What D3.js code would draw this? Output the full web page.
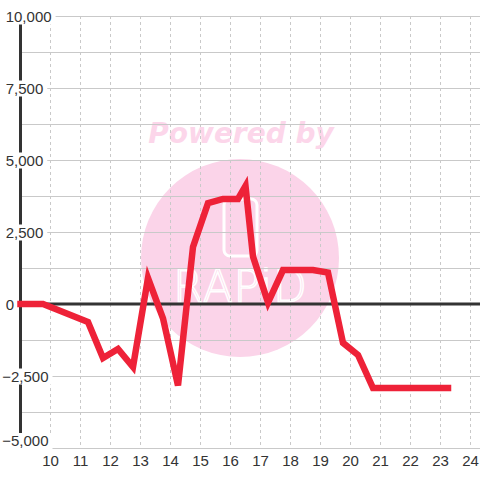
<!DOCTYPE html>
<html>
<head>
<meta charset="utf-8">
<script src="https://cdn.jsdelivr.net/npm/d3@7"></script>
<style>
  html, body { margin: 0; padding: 0; background: #ffffff; }
  svg { display: block; }
</style>
</head>
<body>
<div id="chart"></div>
<script>
// ---- data ----
const xValues = [9, 9.75, 11.25, 11.75, 12.25, 12.75, 13.25, 13.75, 14.25, 14.75, 15.25, 15.75, 16.25, 16.5, 16.75, 17.25, 17.75, 18.75, 19.25, 19.75, 20.25, 20.75, 23.25];
const yValues = [0, 0, -625, -1875, -1560, -2190, 900, -500, -2830, 1980, 3500, 3650, 3650, 4100, 1650, 50, 1180, 1180, 1090, -1350, -1770, -2920, -2920];
const xTicks = [10, 11, 12, 13, 14, 15, 16, 17, 18, 19, 20, 21, 22, 23, 24];
const yLabelTicks = [-5000, -2500, 0, 2500, 5000, 7500, 10000];
const yGridTicks = [-5000, -3750, -2500, -1250, 0, 1250, 2500, 3750, 5000, 6250, 7500, 8750, 10000];

const W = 480, H = 480;
const svg = d3.select("#chart").append("svg").attr("width", W).attr("height", H);
svg.append("rect").attr("width", W).attr("height", H).attr("fill", "#ffffff");

const x = d3.scaleLinear().domain([9, 24 + 9.5 / 30]).range([20.5, 480]);
const y = d3.scaleLinear().domain([-5000, 10000]).range([448, 16]);

// ---- watermark ----
const wm = svg.append("g");
wm.append("circle").attr("cx", 240).attr("cy", 258).attr("r", 99).attr("fill", "#fbd4e9");
wm.append("text").attr("x", 241).attr("y", 143).attr("text-anchor", "middle")
  .attr("font-family", "DejaVu Sans").attr("font-weight", "bold").attr("font-style", "italic")
  .attr("font-size", 28).attr("fill", "#fcd6ea").text("Powered by");
wm.append("rect").attr("x", 224).attr("y", 199).attr("width", 33).attr("height", 57).attr("rx", 6)
  .attr("fill", "none").attr("stroke", "#ffffff").attr("stroke-width", 3);
wm.append("text").attr("x", 240).attr("y", 302).attr("text-anchor", "middle")
  .attr("font-family", "DejaVu Sans").attr("font-weight", 200)
  .attr("font-size", 44).attr("fill", "none").attr("stroke", "#ffffff").attr("stroke-width", 1.5)
  .attr("textLength", 134).attr("lengthAdjust", "spacing").text("RAPiD");

// ---- grid ----
const grid = svg.append("g").attr("shape-rendering", "crispEdges");
grid.selectAll("line.h").data(yGridTicks).join("line").attr("class", "h")
  .attr("x1", x(9)).attr("x2", W).attr("y1", d => y(d)).attr("y2", d => y(d))
  .attr("stroke", "#c9c9c9").attr("stroke-width", 1);
grid.selectAll("line.v").data(xTicks).join("line").attr("class", "v")
  .attr("x1", d => x(d)).attr("x2", d => x(d)).attr("y1", y(10000)).attr("y2", y(-5000))
  .attr("stroke", "#c9c9c9").attr("stroke-width", 1).attr("stroke-dasharray", "3,3");

// y axis line and zero line
svg.append("line").attr("x1", x(9)).attr("x2", x(9)).attr("y1", y(10000)).attr("y2", y(-5000))
  .attr("stroke", "#333333").attr("stroke-width", 3);
svg.append("line").attr("x1", x(9) - 3).attr("x2", W).attr("y1", y(0)).attr("y2", y(0))
  .attr("stroke", "#333333").attr("stroke-width", 3);

// ---- y labels with background ----
const fmt = d3.format(",");
const yl = svg.append("g");
yLabelTicks.forEach(v => {
  // bottom label is nudged up to stay inside the plot, like the original
  const cy = v === -5000 ? y(v) - 7 : y(v) + 0.5;
  const t = yl.append("text")
    .attr("x", v < 0 ? 2.2 : 5.7).attr("y", cy).attr("dy", "0.36em")
    .attr("font-family", "Liberation Sans, Arial, sans-serif").attr("font-size", 15)
    .attr("fill", "#333333").text(fmt(v));
  const bb = t.node().getBBox();
  yl.insert("rect", "text").attr("x", 0).attr("y", cy - 8)
    .attr("width", bb.x + bb.width + 4).attr("height", v === -5000 ? 24 : 16).attr("fill", "#ffffff");
});

// ---- x labels ----
svg.append("g").selectAll("text").data(xTicks).join("text")
  .attr("x", d => x(d)).attr("y", 466).attr("text-anchor", "middle")
  .attr("font-family", "Liberation Sans, Arial, sans-serif").attr("font-size", 15)
  .attr("fill", "#333333").text(d => d);

// ---- data line ----
const pts = xValues.map((v, i) => [v, yValues[i]]);
svg.append("path").datum(pts)
  .attr("d", d3.line().x(d => x(d[0])).y(d => y(d[1])))
  .attr("fill", "none").attr("stroke", "#ee2238").attr("stroke-width", 6.5)
  .attr("stroke-linecap", "square").attr("stroke-linejoin", "miter");
</script>
</body>
</html>
